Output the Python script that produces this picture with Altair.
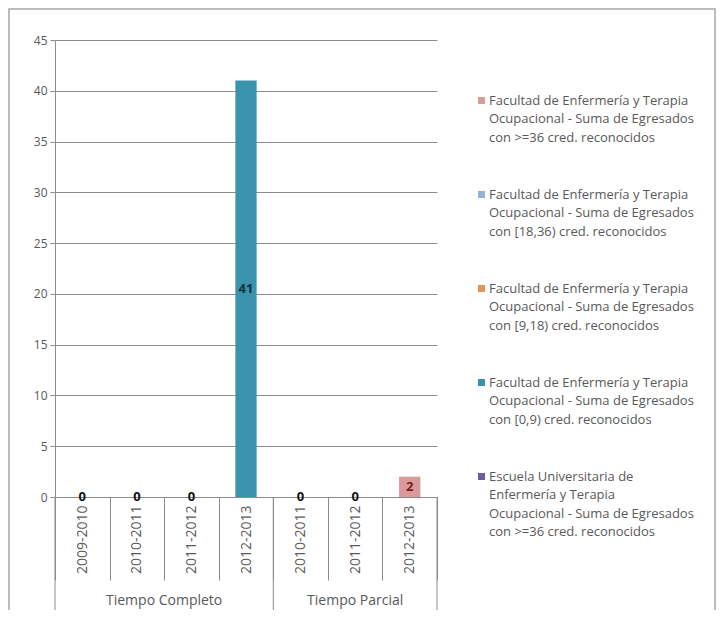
import altair as alt
import pandas as pd

# ---------------- data ----------------
groups = ["Tiempo Completo", "Tiempo Parcial"]
years_tc = ["2009-2010", "2010-2011", "2011-2012", "2012-2013"]
years_tp = ["2010-2011", "2011-2012", "2012-2013"]
years_by_group = [years_tc, years_tp]

series_names = [
    "Facultad de Enfermería y Terapia\nOcupacional - Suma de Egresados\ncon >=36 cred. reconocidos",
    "Facultad de Enfermería y Terapia\nOcupacional - Suma de Egresados\ncon [18,36) cred. reconocidos",
    "Facultad de Enfermería y Terapia\nOcupacional - Suma de Egresados\ncon [9,18) cred. reconocidos",
    "Facultad de Enfermería y Terapia\nOcupacional - Suma de Egresados\ncon [0,9) cred. reconocidos",
    "Escuela Universitaria de\nEnfermería y Terapia\nOcupacional - Suma de Egresados\ncon >=36 cred. reconocidos",
]
series_colors = ["#D99A9B", "#95B3D7", "#E0955E", "#3A93AD", "#6A5C9E"]
label_colors = ["#7B1C1C", "#1F3864", "#7F3F00", "#12323D", "#111111"]

# values per category (TC 2009-10 .. TC 2012-13, TP 2010-11 .. TP 2012-13)
fac_36 = [None, None, None, None, None, None, 2]
fac_18_36 = [None, None, None, None, None, None, None]
fac_9_18 = [None, None, None, None, None, None, None]
fac_0_9 = [None, None, None, 41, None, None, None]
esc_36 = [0, 0, 0, None, 0, 0, None]
series_values = [fac_36, fac_18_36, fac_9_18, fac_0_9, esc_36]

y_ticks = [0, 5, 10, 15, 20, 25, 30, 35, 40, 45]

# ---------------- tables built from the arrays ----------------
cats = [f"{g}|{y}" for g, ys in zip(groups, years_by_group) for y in ys]
rows = []
for s, vals in zip(series_names, series_values):
    for c, v in zip(cats, vals):
        if v is not None:
            rows.append({"cat": c, "series": s, "value": v})
df = pd.DataFrame(rows)

counts = [len(ys) for ys in years_by_group]
starts = [sum(counts[:i]) for i in range(len(counts))]
grp_df = pd.DataFrame({"group": groups,
                       "center": [s + n / 2 for s, n in zip(starts, counts)]})
edges_df = pd.DataFrame({"edge": starts + [sum(counts)]})
n_cats = len(cats)

# ---------------- styling ----------------
W, H = 382, 457
FONT = "Open Sans"
GRID = "#8C8C8C"
TXT = "#595959"

x_scale = alt.Scale(domain=cats, paddingInner=0, paddingOuter=0)
y_scale = alt.Scale(domain=[0, 45], nice=False)
q_scale = alt.Scale(domain=[0, n_cats], nice=False, zero=True)

y_axis = alt.Axis(values=y_ticks, grid=True, gridColor=GRID, tickColor=GRID,
                  tickSize=5, domainColor=GRID, labelColor=TXT,
                  labelFont=FONT, labelFontSize=12, labelPadding=3)

frame = alt.Chart(pd.DataFrame({"k": [0]})).mark_rect(
    filled=False, stroke="#A6A6A6", strokeWidth=1.5
).encode(
    x=alt.value(-46), x2=alt.value(W + 278), y=alt.value(-31), y2=alt.value(H + 200)
)

bars = alt.Chart(df).mark_bar(width=alt.RelativeBandSize(0.39)).encode(
    x=alt.X("cat:N", scale=x_scale, sort=cats, title=None,
            axis=alt.Axis(labelExpr="split(datum.label, '|')[1]", labelAngle=270,
                          tickBand="extent", tickSize=83, tickColor=GRID,
                          domainColor=GRID, labelPadding=-75, labelFont=FONT,
                          labelFontSize=14, labelColor=TXT, grid=False,
                          labelOverlap=False)),
    y=alt.Y("value:Q", scale=y_scale, stack=None, title=None, axis=y_axis),
    color=alt.Color("series:N",
                    scale=alt.Scale(domain=series_names, range=series_colors),
                    legend=alt.Legend(title=None, orient="none", legendX=420, legendY=48,
                                      symbolType="M-1,0.71H1V2.71H-1Z", symbolSize=49,
                                      symbolStrokeWidth=0, labelBaseline="top",
                                      labelExpr="split(datum.label, '\\n')",
                                      labelFont=FONT, labelFontSize=13, labelColor=TXT,
                                      labelLimit=400, labelOffset=1, rowPadding=37,
                                      padding=0)),
)

labels = alt.Chart(df).transform_calculate(mid="datum.value / 2").mark_text(
    font=FONT, fontSize=13, fontWeight="bold", baseline="middle"
).encode(
    x=alt.X("cat:N", scale=x_scale, sort=cats, axis=None),
    y=alt.Y("mid:Q", scale=y_scale, title=None, axis=y_axis),
    text=alt.Text("value:Q", format="d"),
    color=alt.Color("series:N",
                    scale=alt.Scale(domain=series_names, range=label_colors),
                    legend=None),
)

grp_rules = alt.Chart(edges_df).mark_rule(color=GRID, strokeWidth=1).encode(
    x=alt.X("edge:Q", scale=q_scale, axis=None),
    y=alt.value(H), y2=alt.value(H + 115),
)

grp_text = alt.Chart(grp_df).mark_text(
    font=FONT, fontSize=14, color=TXT, baseline="middle"
).encode(
    x=alt.X("center:Q", scale=q_scale, axis=None),
    y=alt.value(H + 104),
    text="group:N",
)

chart = alt.layer(frame, bars, labels, grp_rules, grp_text).resolve_scale(
    x="independent", color="independent"
).properties(
    width=W, height=H,
    autosize=alt.AutoSizeParams(type="none"),
    padding={"left": 47, "top": 32, "right": 280, "bottom": 113},
).configure(
    view=alt.ViewConfig(strokeWidth=0),
    style={"guide-label": {"lineHeight": 18.5}},
)

chart.save("out.html", embed_options={"renderer": "svg", "actions": False})
